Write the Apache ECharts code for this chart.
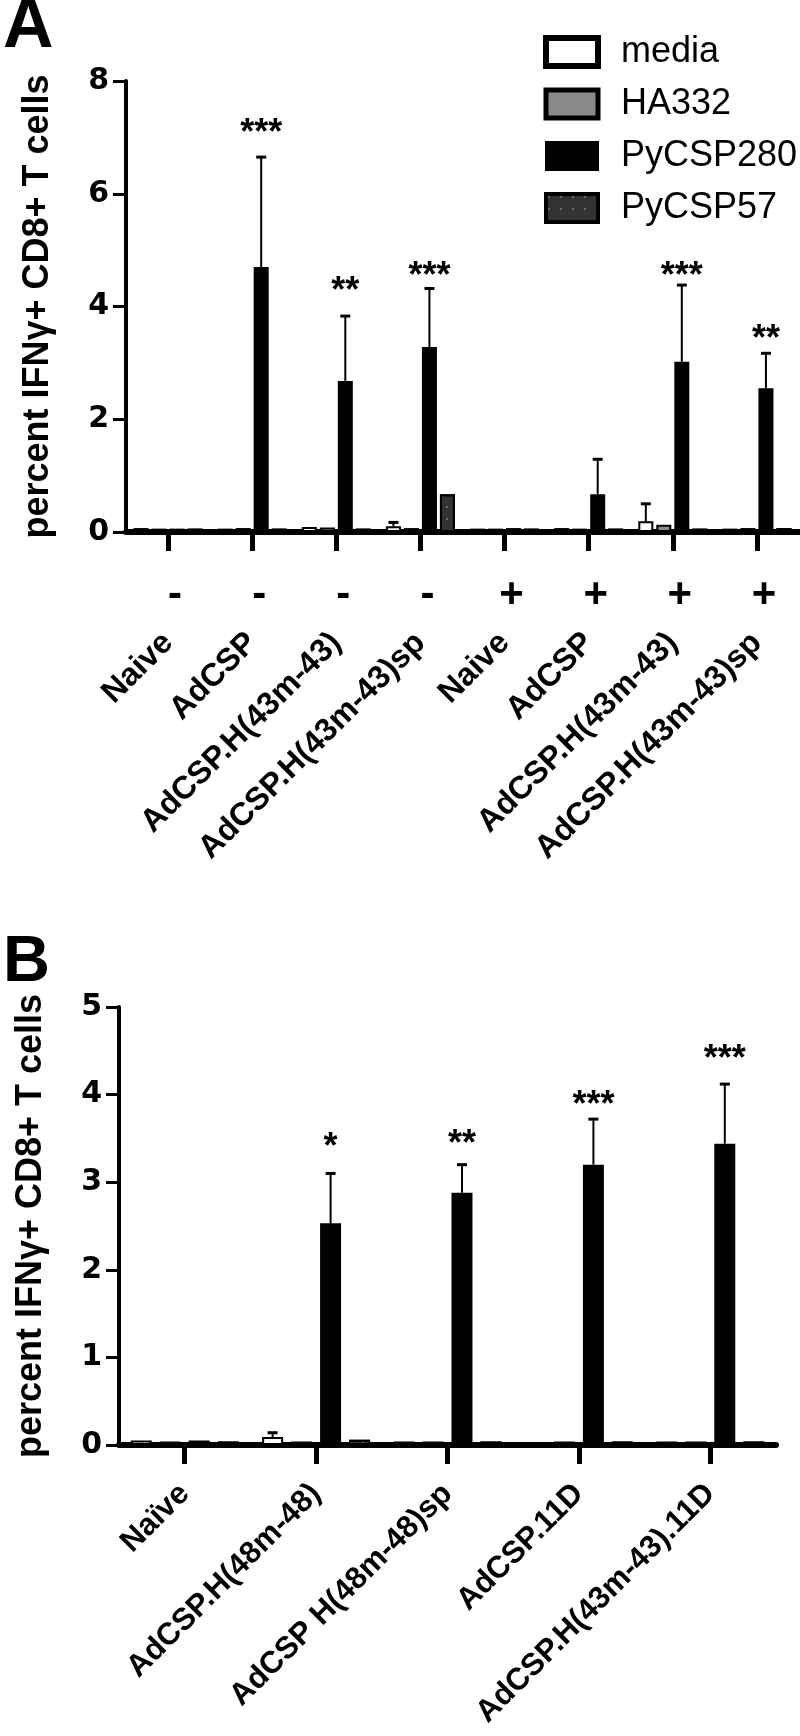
<!DOCTYPE html>
<html>
<head>
<meta charset="utf-8">
<script src="https://cdn.jsdelivr.net/npm/echarts@6/dist/echarts.min.js"></script>
<style>
  html, body { margin: 0; padding: 0; background: #fff; }
  #chart { width: 800px; height: 1736px; }
</style>
</head>
<body>
<div id="chart"></div>
<script>
const FONT = '"Liberation Sans", Arial, Helvetica, sans-serif';
const TICK_FONT = '"DejaVu Sans", "Liberation Sans", Arial, sans-serif';

// ---- Panel A data ----
const catsA = ['Naive', 'AdCSP', 'AdCSP.H(43m-43)', 'AdCSP.H(43m-43)sp',
               'Naive', 'AdCSP', 'AdCSP.H(43m-43)', 'AdCSP.H(43m-43)sp'];
const signsA = ['-', '-', '-', '-', '+', '+', '+', '+'];
const mediaA    = [0.07, 0.06, 0.09, 0.10, 0.06, 0.07, 0.19, 0.06];
const ha332A    = [0.06, 0.07, 0.08, 0.07, 0.06, 0.06, 0.13, 0.07];
const csp280A   = [0.06, 4.70, 2.68, 3.28, 0.07, 0.67, 3.02, 2.55];
const csp57A    = [0.06, 0.06, 0.06, 0.67, 0.06, 0.06, 0.06, 0.07];
const mediaSemA  = [0, 0, 0, 0.07, 0, 0, 0.31, 0];
const csp280SemA = [0, 1.95, 1.15, 1.04, 0, 0.62, 1.36, 0.62];
const starsA  = ['', '***', '**', '***', '', '', '***', '**'];
const starYA  = [null, 7.18, 4.38, 4.65, null, null, 4.65, 3.53];

// ---- Panel B data ----
const catsB = ['Naïve', 'AdCSP.H(48m-48)', 'AdCSP H(48m-48)sp', 'AdCSP.11D', 'AdCSP.H(43m-43).11D'];
const mediaB    = [0.05, 0.09, 0.04, 0.03, 0.04];
const ha332B    = [0.04, 0.04, 0.04, 0.04, 0.04];
const csp280B   = [0.05, 2.53, 2.88, 3.20, 3.44];
const csp57B    = [0.04, 0.06, 0.04, 0.04, 0.04];
const mediaSemB  = [0, 0.05, 0, 0, 0];
const csp280SemB = [0, 0.57, 0.32, 0.52, 0.68];
const starsB  = ['', '*', '**', '***', '***'];
const starYB  = [null, 3.47, 3.50, 3.95, 4.47];

const seriesNames = ['media', 'HA332', 'PyCSP280', 'PyCSP57'];
const seriesStyles = [
  { color: '#ffffff', borderColor: '#000', borderWidth: 2 },
  { color: '#8a8a8a', borderColor: '#000', borderWidth: 2 },
  { color: '#000000', borderColor: '#000', borderWidth: 2 },
  { color: '#333333', borderColor: '#000', borderWidth: 2,
    decal: { symbol: 'circle', symbolSize: 0.3, color: 'rgba(170,170,170,0.7)', dashArrayX: 6, dashArrayY: 6 } }
];

function barSeries(idx, data, axis, width, gap) {
  return {
    name: seriesNames[idx],
    type: 'bar',
    xAxisIndex: axis,
    yAxisIndex: axis,
    data: data,
    barWidth: width,
    barGap: gap,
    itemStyle: seriesStyles[idx],
    silent: true
  };
}

// upper-only error bars, drawn at a bar's offset within its group
function errorSeries(means, sems, axis, offset) {
  const data = [];
  means.forEach((m, i) => { if (sems[i] > 0) data.push([i, m, m + sems[i]]); });
  return {
    type: 'custom',
    xAxisIndex: axis,
    yAxisIndex: axis,
    silent: true,
    z: 3,
    encode: { x: 0, y: [1, 2] },
    data: data,
    renderItem(params, api) {
      const lo = api.coord([api.value(0), api.value(1)]);
      const hi = api.coord([api.value(0), api.value(2)]);
      const x = lo[0] + offset;
      return {
        type: 'group',
        children: [
          { type: 'line', shape: { x1: x, y1: lo[1], x2: x, y2: hi[1] }, style: { stroke: '#000', lineWidth: 2 } },
          { type: 'line', shape: { x1: x - 5, y1: hi[1], x2: x + 5, y2: hi[1] }, style: { stroke: '#000', lineWidth: 3 } }
        ]
      };
    }
  };
}

function starSeries(stars, ys, axis, offset) {
  const data = [];
  ys.forEach((y, i) => { if (y !== null) data.push([i, y]); });
  return {
    type: 'custom',
    xAxisIndex: axis,
    yAxisIndex: axis,
    silent: true,
    z: 4,
    data: data,
    renderItem(params, api) {
      const p = api.coord([api.value(0), api.value(1)]);
      return {
        type: 'text',
        x: p[0] + offset,
        y: p[1] + 7,
        style: {
          text: stars[api.value(0)],
          fill: '#000',
          font: 'bold 36px ' + FONT,
          align: 'center',
          verticalAlign: 'middle'
        }
      };
    }
  };
}

function yAxisCfg(grid, max, interval) {
  return {
    type: 'value',
    gridIndex: grid,
    min: 0,
    max: max,
    interval: interval,
    name: 'percent IFNγ+ CD8+ T cells',
    nameLocation: 'middle',
    nameGap: 70,
    nameTextStyle: { fontSize: 36, fontWeight: 'bold', fontFamily: FONT, color: '#000' },
    axisLine: { show: true, lineStyle: { color: '#000', width: 4 } },
    axisTick: { show: true, length: 13, lineStyle: { color: '#000', width: 3 } },
    axisLabel: { fontSize: 30, fontWeight: 'bold', fontFamily: TICK_FONT, color: '#000', margin: 17 },
    splitLine: { show: false }
  };
}

function xAxisCfg(grid, cats, margin, size) {
  return {
    type: 'category',
    gridIndex: grid,
    data: cats,
    position: 'bottom',
    axisLine: { show: true, lineStyle: { color: '#000', width: 6 } },
    axisTick: { show: true, alignWithLabel: true, interval: 0, length: 19, lineStyle: { color: '#000', width: 5 } },
    axisLabel: { interval: 0, rotate: 45, fontSize: size, fontWeight: 'bold', fontFamily: FONT, color: '#000', margin: margin },
    splitLine: { show: false }
  };
}

const chart = echarts.init(document.getElementById('chart'), null, { renderer: 'canvas' });

const option = {
  backgroundColor: '#fff',
  animation: false,
  title: [
    { text: 'A', left: -2, top: -12, textStyle: { fontSize: 70, fontWeight: 'bold', fontFamily: FONT, color: '#000' } },
    { text: 'B', left: -2, top: 926, textStyle: { fontSize: 65, fontWeight: 'bold', fontFamily: FONT, color: '#000' } }
  ],
  legend: {
    orient: 'vertical',
    left: 538,
    top: 29,
    icon: 'rect',
    itemWidth: 52,
    itemHeight: 28,
    itemGap: 16,
    selectedMode: false,
    textStyle: { fontSize: 36, fontFamily: FONT, color: '#000', lineHeight: 36, padding: [0, 0, 0, 18] },
    data: [
      { name: 'media', itemStyle: { borderWidth: 6 } },
      { name: 'HA332', itemStyle: { borderWidth: 5 } },
      { name: 'PyCSP280', itemStyle: { borderWidth: 2 } },
      { name: 'PyCSP57', itemStyle: { borderWidth: 4 } }
    ]
  },
  grid: [
    { left: 126, top: 81, width: 673, height: 451, outerBoundsMode: 'none' },
    { left: 119, top: 1007, width: 657, height: 438, outerBoundsMode: 'none' }
  ],
  xAxis: [
    xAxisCfg(0, catsA, 106, 32),
    xAxisCfg(1, catsB, 44, 31),
    {
      type: 'category',
      gridIndex: 0,
      data: signsA,
      position: 'bottom',
      axisLine: { show: false },
      axisTick: { show: false },
      axisLabel: { interval: 0, fontSize: 42, fontWeight: 'bold', fontFamily: FONT, color: '#000', margin: 42, padding: [0, 0, 0, 14] },
      splitLine: { show: false }
    }
  ],
  yAxis: [
    yAxisCfg(0, 8, 2),
    yAxisCfg(1, 5, 1)
  ],
  series: [
    barSeries(0, mediaA, 0, 15, '20%'),
    barSeries(1, ha332A, 0, 15, '20%'),
    barSeries(2, csp280A, 0, 15, '20%'),
    barSeries(3, csp57A, 0, 15, '20%'),
    errorSeries(mediaA, mediaSemA, 0, -27),
    errorSeries(csp280A, csp280SemA, 0, 9),
    starSeries(starsA, starYA, 0, 9),

    barSeries(0, mediaB, 1, 21, '38%'),
    barSeries(1, ha332B, 1, 21, '38%'),
    barSeries(2, csp280B, 1, 21, '38%'),
    barSeries(3, csp57B, 1, 21, '38%'),
    errorSeries(mediaB, mediaSemB, 1, -43.5),
    errorSeries(csp280B, csp280SemB, 1, 14.5),
    starSeries(starsB, starYB, 1, 14.5)
  ]
};

chart.setOption(option);
</script>
</body>
</html>
